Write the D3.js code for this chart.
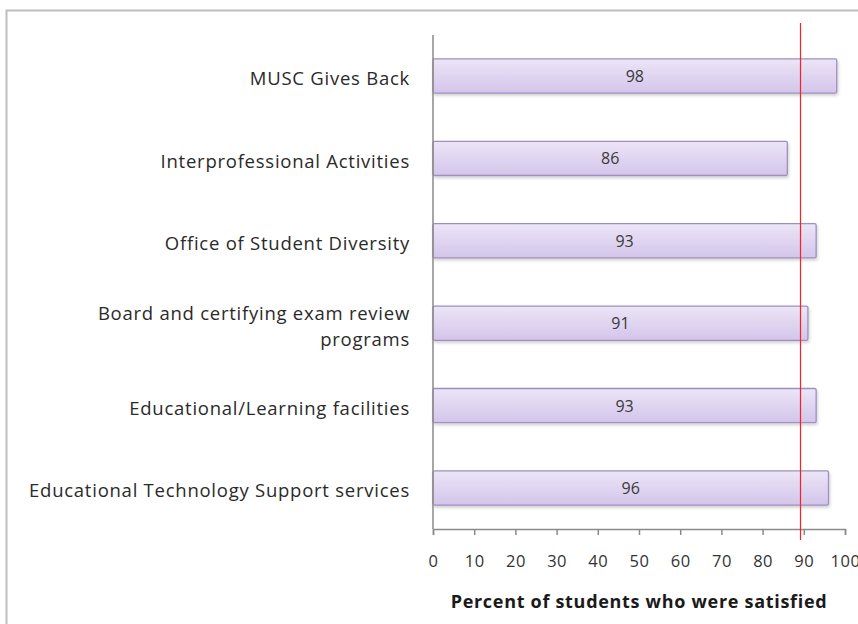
<!DOCTYPE html>
<html>
<head>
<meta charset="utf-8">
<script src="https://cdn.jsdelivr.net/npm/d3@7"></script>
<style>
  body { margin: 0; background: #fff; }
  svg { display: block; font-family: "Open Sans", sans-serif; }
</style>
</head>
<body>
<div id="chart"></div>
<script>
const categories = [
    'MUSC Gives Back',
    'Interprofessional Activities',
    'Office of Student Diversity',
    'Board and certifying exam review|programs',
    'Educational/Learning facilities',
    'Educational Technology Support services'
];
const values = [98, 86, 93, 91, 93, 96];
const xTicks = [0, 10, 20, 30, 40, 50, 60, 70, 80, 90, 100];
const threshold = 89;
const axisTitle = 'Percent of students who were satisfied';

const width = 858;
const height = 624;

const svg = d3.select('#chart')
    .append('svg')
    .attr('width', width)
    .attr('height', height);

// gradient for bars
const defs = svg.append('defs');
const grad = defs.append('linearGradient')
    .attr('id', 'barGrad')
    .attr('x1', 0).attr('y1', 0).attr('x2', 0).attr('y2', 1);
grad.append('stop').attr('offset', '0%').attr('stop-color', '#ece5f7');
grad.append('stop').attr('offset', '100%').attr('stop-color', '#d3c5ea');

const shadow = defs.append('filter').attr('id', 'shadow')
    .attr('x', '-5%').attr('y', '-20%').attr('width', '110%').attr('height', '160%');
shadow.append('feDropShadow')
    .attr('dx', 1).attr('dy', 2).attr('stdDeviation', 1.5)
    .attr('flood-color', '#000').attr('flood-opacity', 0.18);

// outer frame
svg.append('rect')
    .attr('x', 6.5).attr('y', 10.5)
    .attr('width', 900).attr('height', 700)
    .attr('fill', '#fff')
    .attr('stroke', '#bdbdbd')
    .attr('stroke-width', 2);

const x = d3.scaleLinear()
    .domain([0, 100])
    .range([433, 845]);

const y = d3.scaleBand()
    .domain(categories)
    .range([35, 529])
    .paddingInner(0.585)
    .paddingOuter(0.29);

// bars
svg.selectAll('.bar')
    .data(values)
    .enter()
    .append('rect')
    .attr('class', 'bar')
    .attr('x', x(0))
    .attr('y', (d, i) => y(categories[i]))
    .attr('width', d => x(d) - x(0))
    .attr('height', y.bandwidth())
    .attr('fill', 'url(#barGrad)')
    .attr('stroke', '#9e8fc0')
    .attr('stroke-width', 1.3)
    .attr('rx', 1.5)
    .attr('filter', 'url(#shadow)');

// value labels
svg.selectAll('.val')
    .data(values)
    .enter()
    .append('text')
    .attr('class', 'val')
    .attr('x', d => (x(0) + x(d)) / 2)
    .attr('y', (d, i) => y(categories[i]) + y.bandwidth() / 2)
    .attr('dy', '0.38em')
    .attr('text-anchor', 'middle')
    .style('font-size', '16px')
    .style('fill', '#3a3a3a')
    .text(d => d);

// category labels
categories.forEach(c => {
    const lines = c.split('|');
    const cy = y(c) + y.bandwidth() / 2 + 3;
    const t = svg.append('text')
        .attr('text-anchor', 'end')
        .style('font-size', '18.5px')
        .style('letter-spacing', '0.75px')
        .style('fill', '#2a2a2a');
    lines.forEach((ln, j) => {
        t.append('tspan')
            .attr('x', 410)
            .attr('y', cy + (j - (lines.length - 1) / 2) * 26)
            .attr('dy', '0.35em')
            .text(ln);
    });
});

// y axis line
svg.append('line')
    .attr('x1', x(0)).attr('x2', x(0))
    .attr('y1', 35).attr('y2', 529)
    .attr('stroke', '#8a8a8a')
    .attr('stroke-width', 1.5);

// x axis
const xAxis = svg.append('g')
    .attr('transform', 'translate(0,529)')
    .call(d3.axisBottom(x).tickValues(xTicks).tickSize(6).tickPadding(20));
xAxis.select('.domain').attr('stroke', '#8a8a8a').attr('stroke-width', 1.5);
xAxis.selectAll('.tick line').attr('stroke', '#8a8a8a').attr('stroke-width', 1.5);
xAxis.selectAll('.tick text')
    .style('font-size', '16.5px')
    .style('letter-spacing', '0.5px')
    .style('font-family', '"Open Sans", sans-serif')
    .attr('fill', '#333');

// threshold line
svg.append('line')
    .attr('x1', Math.round(x(threshold)) + 0.5).attr('x2', Math.round(x(threshold)) + 0.5)
    .attr('y1', 23).attr('y2', 540)
    .attr('stroke', '#ff1f1f')
    .attr('stroke-width', 1.2);

// axis title
svg.append('text')
    .attr('x', 639)
    .attr('y', 608)
    .attr('text-anchor', 'middle')
    .style('font-size', '18px')
    .style('letter-spacing', '0.7px')
    .style('font-weight', 'bold')
    .style('fill', '#1a1a1a')
    .text(axisTitle);
</script>
</body>
</html>
